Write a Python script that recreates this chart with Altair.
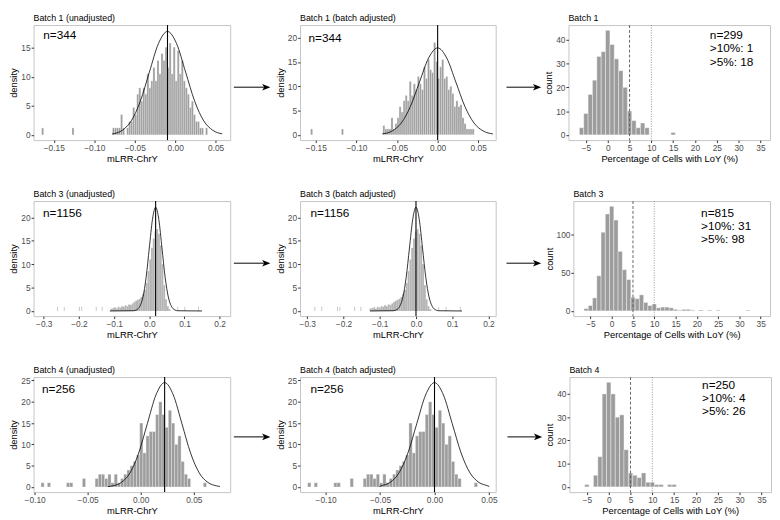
import altair as alt
import pandas as pd

FONT = "Liberation Sans"
BAR = "#9c9c9c"
BAR_LIGHT = "#b4b4b4"

# ---------------- Batch 1 (unadjusted) : density histogram ----------------
b1u_start, b1u_bw = -0.0800, 0.0025
b1u_density = [0, 1.2, 1.2, 1.2, 1.2, 3.5, 1.2, 0, 1.2, 2.3, 2.3, 4.7, 3.5, 7.0, 8.1, 5.8,
               8.1, 7.0, 10.5, 8.1, 9.3, 11.6, 9.3, 12.8, 10.5, 14.0, 12.8, 15.1, 11.6, 15.8,
               10.5, 15.1, 9.3, 14.5, 10.5, 12.8, 9.3, 8.1, 7.0, 4.7, 5.8, 3.5, 2.3, 2.3, 1.2,
               1.2, 0, 1.2]
b1u_out_x = [-0.1650, -0.1275]
b1u_out_y = [1.2, 1.2]
b1u_curve_x = [-0.0780, -0.0655, -0.0543, -0.0431, -0.0319, -0.0207, -0.0095, 0.0017,
               0.0129, 0.0241, 0.0353, 0.0465, 0.0580]
b1u_curve_y = [0.15, 0.78, 2.41, 5.78, 10.80, 15.71, 17.80, 15.71, 10.80, 5.78, 2.41, 0.78, 0.18]
b1u_mean = -0.0095

# ---------------- Batch 1 (batch adjusted) ----------------
b1a_start, b1a_bw = -0.0675, 0.0025
b1a_density = [1.9, 1.2, 1.2, 1.2, 3.5, 1.2, 2.3, 3.5, 5.8, 4.7, 7.0, 8.1, 7.0, 11.0, 8.1,
               10.5, 9.3, 12.0, 10.5, 9.3, 14.0, 11.6, 15.5, 13.4, 12.8, 19.0, 15.1, 11.6,
               14.0, 15.5, 11.6, 12.0, 9.3, 10.0, 8.5, 5.8, 7.0, 5.8, 6.2, 3.5, 2.3, 1.2,
               1.2, 1.2, 1.2]
b1a_out_x = [-0.1565, -0.1185]
b1a_out_y = [1.2, 1.2]
b1a_curve_x = [-0.0680, -0.0560, -0.0448, -0.0336, -0.0224, -0.0112, 0.0, 0.0112, 0.0224,
               0.0336, 0.0448, 0.0560, 0.0680]
b1a_curve_y = [0.18, 0.79, 2.42, 5.81, 10.86, 15.80, 17.90, 15.80, 10.86, 5.81, 2.42, 0.79, 0.18]
b1a_mean = 0.0

# ---------------- Batch 1 : LoY counts ----------------
b1_centers = [-6, -5, -4, -3, -2, -1, 0, 1, 2, 3, 4, 5, 6, 7, 8, 9, 15]
b1_counts = [3, 9, 17, 23, 33, 35, 44, 38, 32, 27, 20, 10, 6, 3, 5, 3, 1]

# ---------------- Batch 3 (unadjusted) ----------------
b3u_start, b3u_bw = -0.1100, 0.005
b3u_density = [0.5, 0.6, 0.8, 0.5, 0.9, 0.7, 1.0, 0.9, 1.2, 1.0, 1.4, 1.3, 1.6, 1.9, 2.2,
               2.4, 2.6, 3.0, 3.6, 4.5, 6.0, 8.5, 11.0, 13.5, 15.5, 17.0, 17.5, 16.5, 14.0,
               10.0, 5.5, 2.5, 1.0, 0.4]
b3u_out_x = [-0.262, -0.243, -0.200, -0.193, -0.152, -0.135, 0.080, 0.100, 0.139]
b3u_out_y = [0.9, 0.9, 0.9, 0.9, 0.9, 0.9, 0.9, 0.9, 0.9]
b3u_curve_x = [-0.112, -0.045, -0.036, -0.027, -0.018, -0.009, 0.0, 0.009, 0.018, 0.027,
               0.036, 0.045, 0.054, 0.063, 0.072, 0.081, 0.150]
b3u_curve_y = [0.0, 0.05, 0.25, 0.97, 3.00, 7.21, 13.46, 19.59, 22.2, 19.59, 13.46, 7.21,
               3.00, 0.97, 0.25, 0.05, 0.0]
b3u_mean = 0.018

# ---------------- Batch 3 (batch adjusted) ----------------
b3a_start, b3a_bw = -0.1280, 0.005
b3a_density = [0.5, 0.6, 0.8, 0.5, 0.9, 0.7, 1.0, 0.9, 1.2, 1.0, 1.4, 1.3, 1.6, 1.9, 2.2,
               2.4, 2.6, 3.0, 3.6, 4.5, 6.0, 8.5, 11.0, 13.5, 15.5, 17.0, 17.5, 16.5, 14.0,
               10.0, 5.5, 2.5, 1.0, 0.4]
b3a_out_x = [-0.280, -0.261, -0.218, -0.211, -0.170, -0.153, 0.062, 0.082, 0.121]
b3a_out_y = [0.9, 0.9, 0.9, 0.9, 0.9, 0.9, 0.9, 0.9, 0.9]
b3a_curve_x = [-0.127, -0.063, -0.054, -0.045, -0.036, -0.027, -0.018, -0.009, 0.0, 0.009,
               0.018, 0.027, 0.036, 0.045, 0.054, 0.063, 0.127]
b3a_curve_y = [0.0, 0.05, 0.25, 0.97, 3.00, 7.21, 13.46, 19.59, 22.2, 19.59, 13.46, 7.21,
               3.00, 0.97, 0.25, 0.05, 0.0]
b3a_mean = 0.0

# ---------------- Batch 3 : LoY counts ----------------
b3_centers = [-6, -5, -4, -3, -2, -1, 0, 1, 2, 3, 4, 5, 6, 7, 8, 9, 10, 11, 12, 13, 14, 15,
              16, 17, 18, 19, 21, 23, 25, 32]
b3_counts = [3, 7, 17, 46, 103, 127, 137, 119, 78, 54, 41, 18, 16, 21, 11, 7, 9, 4, 5, 5, 4,
             2, 1, 2, 2, 1, 1, 1, 1, 1]

# ---------------- Batch 4 (unadjusted) ----------------
b4u_start, b4u_bw = -0.0940, 0.003
b4u_density = [1, 0, 1, 0, 0, 0, 0, 0, 1, 1, 0, 0, 0, 2, 0, 0, 0, 2, 3, 3, 2, 3, 1, 3, 1, 2,
               3, 4, 5, 6, 7.5, 15, 8, 12, 13, 13, 17, 20, 17, 14, 18, 15, 10, 12, 6, 3, 2, 0,
               0, 0, 0, 1]
b4u_out_x = []
b4u_out_y = []
b4u_curve_x = [-0.0310, -0.0264, -0.01825, -0.0101, -0.00195, 0.0062, 0.01435, 0.0225,
               0.03065, 0.0388, 0.04695, 0.0551, 0.06325, 0.0714, 0.0746]
b4u_curve_y = [0.10, 0.27, 1.08, 3.31, 7.96, 14.86, 21.62, 24.5, 21.62, 14.86, 7.96, 3.31,
               1.08, 0.27, 0.12]
b4u_mean = 0.0225

# ---------------- Batch 4 (batch adjusted) ----------------
b4a_start, b4a_bw = -0.1165, 0.003
b4a_density = [1, 0, 1, 0, 0, 0, 0, 0, 1, 1, 0, 0, 0, 2, 0, 0, 0, 2, 3, 3, 2, 3, 1, 3, 1, 2,
               3, 4, 5, 6, 7.5, 15, 8, 12, 13, 13, 17, 20, 17, 14, 18, 15, 10, 12, 6, 3, 2, 0,
               0, 0, 0, 1]
b4a_out_x = []
b4a_out_y = []
b4a_curve_x = [-0.0506, -0.0489, -0.04075, -0.0326, -0.02445, -0.0163, -0.00815, 0.0,
               0.00815, 0.0163, 0.02445, 0.0326, 0.04075, 0.0489, 0.0503]
b4a_curve_y = [0.10, 0.27, 1.08, 3.31, 7.96, 14.86, 21.62, 24.5, 21.62, 14.86, 7.96, 3.31,
               1.08, 0.27, 0.12]
b4a_mean = 0.0

# ---------------- Batch 4 : LoY counts ----------------
b4_centers = [-5, -3, -2, -1, 0, 1, 2, 3, 4, 5, 6, 7, 8, 9, 10, 11, 12, 14, 15]
b4_counts = [1, 5, 13, 40, 45, 40, 30, 31, 16, 6, 5, 4, 6, 2, 2, 1, 1, 1, 1]

H = 117


def hist_df(start, bw, heights, out_x, out_y, out_bw):
    x0 = [round(start + i * bw, 6) for i in range(len(heights))]
    x1 = [round(v + bw, 6) for v in x0]
    ox1 = [round(v + out_bw, 6) for v in out_x]
    df = pd.DataFrame({"x0": x0 + list(out_x), "x1": x1 + ox1, "y": list(heights) + list(out_y)})
    df["y0"] = 0.0
    return df[df["y"] > 0]


def density_panel(title, bars, cx, cy, mean, label, lx, ly, xdom, ydom, xticks, xfmt,
                  yticks, width, color, stroke_w):
    xs = alt.Scale(domain=xdom, nice=False, zero=False)
    ys = alt.Scale(domain=ydom, nice=False, zero=False)
    xa = alt.Axis(values=xticks, format=xfmt, title="mLRR-ChrY", labelFlush=False)
    ya = alt.Axis(values=yticks, format="d", title="density", labelFlush=False)
    b = alt.Chart(bars).mark_bar(color=color, stroke="white", strokeWidth=stroke_w).encode(
        x=alt.X("x0:Q", scale=xs, axis=xa), x2="x1:Q",
        y=alt.Y("y:Q", scale=ys, axis=ya), y2="y0:Q")
    c = alt.Chart(pd.DataFrame({"x0": cx, "y": cy})).mark_line(
        color="black", strokeWidth=0.8, interpolate="monotone").encode(
        x=alt.X("x0:Q", scale=xs, axis=xa), y=alt.Y("y:Q", scale=ys, axis=ya))
    v = alt.Chart(pd.DataFrame({"x0": [mean]})).mark_rule(color="black", strokeWidth=1.1).encode(
        x=alt.X("x0:Q", scale=xs, axis=xa))
    t = alt.Chart(pd.DataFrame({"x0": [lx], "y": [ly], "t": [label]})).mark_text(
        align="left", baseline="top", fontSize=12, font=FONT, color="black").encode(
        x=alt.X("x0:Q", scale=xs, axis=xa), y=alt.Y("y:Q", scale=ys, axis=ya), text="t:N")
    return alt.layer(b, c, v, t).properties(width=width, height=H, title=title)


def count_panel(title, centers, counts, label, lx, ly, ydom, yticks, width):
    xs = alt.Scale(domain=[-9.0, 37.2], nice=False, zero=False)
    ys = alt.Scale(domain=ydom, nice=False, zero=False)
    xa = alt.Axis(values=[-5, 0, 5, 10, 15, 20, 25, 30, 35], format="d",
                  title="Percentage of Cells with LoY (%)", labelFlush=False)
    ya = alt.Axis(values=yticks, format="d", title="count", labelFlush=False)
    df = pd.DataFrame({"x0": [c - 0.5 for c in centers], "x1": [c + 0.5 for c in centers],
                       "y": counts, "y0": 0.0})
    b = alt.Chart(df).mark_bar(color=BAR, stroke="white", strokeWidth=0.4).encode(
        x=alt.X("x0:Q", scale=xs, axis=xa), x2="x1:Q",
        y=alt.Y("y:Q", scale=ys, axis=ya), y2="y0:Q")
    r5 = alt.Chart(pd.DataFrame({"x0": [5]})).mark_rule(
        color="#555555", strokeWidth=0.9, strokeDash=[3, 2]).encode(
        x=alt.X("x0:Q", scale=xs, axis=xa))
    r10 = alt.Chart(pd.DataFrame({"x0": [10]})).mark_rule(
        color="#888888", strokeWidth=0.9, strokeDash=[1, 1.5]).encode(
        x=alt.X("x0:Q", scale=xs, axis=xa))
    t = alt.Chart(pd.DataFrame({"x0": [lx], "y": [ly], "t": [label]})).mark_text(
        align="left", baseline="top", fontSize=12, font=FONT, color="black",
        lineBreak="\n", lineHeight=13.5).encode(
        x=alt.X("x0:Q", scale=xs, axis=xa), y=alt.Y("y:Q", scale=ys, axis=ya), text="t:N")
    return alt.layer(b, r5, r10, t).properties(width=width, height=H, title=title)


def arrow(width, x0, x1, yv):
    df = pd.DataFrame({"x0": [x0], "x1": [x1], "y": [yv]})
    xs = alt.Scale(domain=[0, 1], nice=False, zero=False)
    ys = alt.Scale(domain=[0, 1], nice=False, zero=False)
    line = alt.Chart(df).mark_rule(color="black", strokeWidth=1, x2Offset=-5).encode(
        x=alt.X("x0:Q", scale=xs, axis=None), x2="x1:Q", y=alt.Y("y:Q", scale=ys, axis=None))
    head = alt.Chart(df).mark_point(
        shape="M 1 0 L -1 -0.8 L -0.5 0 L -1 0.8 Z", filled=True, color="black",
        opacity=1, size=70, xOffset=-4).encode(
        x=alt.X("x1:Q", scale=xs, axis=None), y=alt.Y("y:Q", scale=ys, axis=None))
    return alt.layer(line, head).properties(
        width=width, height=H, view=alt.ViewBackground(stroke="transparent"))


W1, W2 = 200, 199
A1, A2 = 42, 45

p1 = density_panel("Batch 1 (unadjusted)",
                   hist_df(b1u_start, b1u_bw, b1u_density, b1u_out_x, b1u_out_y, b1u_bw),
                   b1u_curve_x, b1u_curve_y, b1u_mean, "n=344", -0.163, 18.0,
                   [-0.175, 0.068], [-0.9, 18.9], [-0.15, -0.10, -0.05, 0.0, 0.05], ".2f",
                   [0, 5, 10, 15], W1, BAR, 0.3)
p2 = density_panel("Batch 1 (batch adjusted)",
                   hist_df(b1a_start, b1a_bw, b1a_density, b1a_out_x, b1a_out_y, b1a_bw),
                   b1a_curve_x, b1a_curve_y, b1a_mean, "n=344", -0.159, 21.0,
                   [-0.1695, 0.0715], [-1.1, 22.6], [-0.15, -0.10, -0.05, 0.0, 0.05], ".2f",
                   [0, 5, 10, 15, 20], W2, BAR, 0.3)
p3 = count_panel("Batch 1", b1_centers, b1_counts, "n=299\n>10%: 1\n>5%: 18", 23.4, 44.0,
                 [-2.2, 46.2], [0, 10, 20, 30, 40], 205)

p4 = density_panel("Batch 3 (unadjusted)",
                   hist_df(b3u_start, b3u_bw, b3u_density, b3u_out_x, b3u_out_y, 0.002),
                   b3u_curve_x, b3u_curve_y, b3u_mean, "n=1156", -0.302, 22.0,
                   [-0.329, 0.23], [-1.1, 23.5], [-0.3, -0.2, -0.1, 0.0, 0.1, 0.2], ".1f",
                   [0, 5, 10, 15, 20], W1, BAR_LIGHT, 0)
p5 = density_panel("Batch 3 (batch adjusted)",
                   hist_df(b3a_start, b3a_bw, b3a_density, b3a_out_x, b3a_out_y, 0.002),
                   b3a_curve_x, b3a_curve_y, b3a_mean, "n=1156", -0.291, 22.0,
                   [-0.32, 0.22], [-1.1, 23.5], [-0.3, -0.2, -0.1, 0.0, 0.1, 0.2], ".1f",
                   [0, 5, 10, 15, 20], W2, BAR_LIGHT, 0)
p6 = count_panel("Batch 3", b3_centers, b3_counts, "n=815\n>10%: 31\n>5%: 98", 21.0, 135.0,
                 [-6.85, 143.85], [0, 50, 100], 200)

p7 = density_panel("Batch 4 (unadjusted)",
                   hist_df(b4u_start, b4u_bw, b4u_density, b4u_out_x, b4u_out_y, b4u_bw),
                   b4u_curve_x, b4u_curve_y, b4u_mean, "n=256", -0.093, 24.2,
                   [-0.101, 0.0843], [-1.2, 25.8], [-0.10, -0.05, 0.0, 0.05], ".2f",
                   [0, 5, 10, 15, 20, 25], W1, BAR, 0.3)
p8 = density_panel("Batch 4 (batch adjusted)",
                   hist_df(b4a_start, b4a_bw, b4a_density, b4a_out_x, b4a_out_y, b4a_bw),
                   b4a_curve_x, b4a_curve_y, b4a_mean, "n=256", -0.114, 24.2,
                   [-0.1235, 0.0562], [-1.2, 25.8], [-0.10, -0.05, 0.0, 0.05], ".2f",
                   [0, 5, 10, 15, 20, 25], W2, BAR, 0.3)
p9 = count_panel("Batch 4", b4_centers, b4_counts, "n=250\n>10%: 4\n>5%: 26", 21.4, 46.0,
                 [-2.25, 47.25], [0, 10, 20, 30, 40], 205)

row1 = alt.hconcat(p1, arrow(A1, 0.04, 0.92, 0.46), p2, arrow(A2, 0.2, 0.98, 0.46), p3, spacing=0)
row2 = alt.hconcat(p4, arrow(A1, 0.04, 0.92, 0.46), p5, arrow(A2, 0.2, 0.98, 0.46), p6, spacing=0)
row3 = alt.hconcat(p7, arrow(A1, 0.04, 0.92, 0.48), p8, arrow(A2, 0.2, 0.98, 0.48), p9, spacing=0)

chart = alt.vconcat(row1, row2, row3, spacing=25).properties(padding=0).configure(
    font=FONT).configure_view(stroke="#c4c4c4", strokeWidth=1).configure_axis(
    labelFont=FONT, titleFont=FONT, labelFontSize=8.5, titleFontSize=9.5, labelColor="#4d4d4d",
    titleColor="black", titleFontWeight="normal", tickColor="#333333", tickSize=2.5,
    domain=False, grid=False, labelPadding=1, titlePadding=2).configure_title(
    font=FONT, fontSize=9, fontWeight="normal", anchor="start", frame="group", offset=2,
    color="black")

chart.save("out.html", embed_options={"renderer": "svg", "actions": False})
